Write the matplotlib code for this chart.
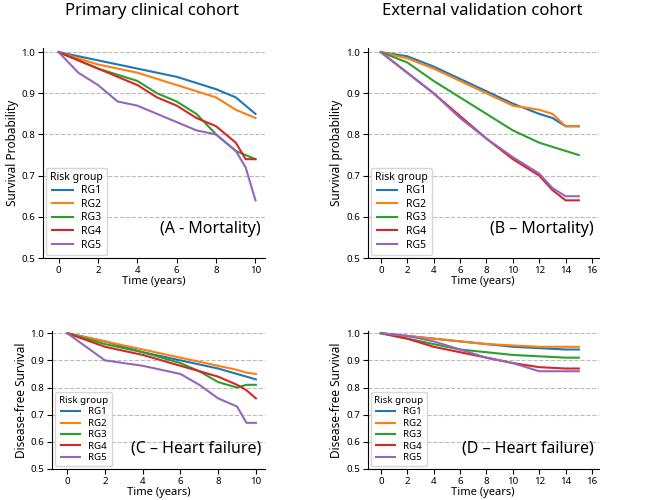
import matplotlib
matplotlib.use("Agg")
import matplotlib.pyplot as plt

plt.rcParams['font.family'] = ['Noto Sans', 'DejaVu Sans']

groups = ["RG1", "RG2", "RG3", "RG4", "RG5"]
colors = ["#1f77b4", "#ff7f0e", "#2ca02c", "#d62728", "#9467bd"]

tA = [0, 1, 2, 3, 4, 5, 6, 7, 8, 9, 9.5, 10]
A = {
 "RG1": [1.0, 0.99, 0.98, 0.97, 0.96, 0.95, 0.94, 0.925, 0.91, 0.89, 0.87, 0.85],
 "RG2": [1.0, 0.985, 0.97, 0.96, 0.95, 0.935, 0.92, 0.905, 0.89, 0.86, 0.85, 0.84],
 "RG3": [1.0, 0.98, 0.96, 0.945, 0.93, 0.90, 0.88, 0.85, 0.80, 0.76, 0.75, 0.74],
 "RG4": [1.0, 0.98, 0.96, 0.94, 0.92, 0.89, 0.87, 0.84, 0.82, 0.78, 0.74, 0.74],
 "RG5": [1.0, 0.95, 0.92, 0.88, 0.87, 0.85, 0.83, 0.81, 0.80, 0.76, 0.72, 0.64],
}
tB = [0, 2, 4, 6, 8, 10, 12, 13, 14, 15]
B = {
 "RG1": [1.0, 0.99, 0.965, 0.935, 0.905, 0.875, 0.85, 0.84, 0.82, 0.82],
 "RG2": [1.0, 0.985, 0.96, 0.93, 0.90, 0.87, 0.86, 0.85, 0.82, 0.82],
 "RG3": [1.0, 0.975, 0.93, 0.89, 0.85, 0.81, 0.78, 0.77, 0.76, 0.75],
 "RG4": [1.0, 0.95, 0.90, 0.845, 0.79, 0.74, 0.70, 0.665, 0.64, 0.64],
 "RG5": [1.0, 0.95, 0.90, 0.84, 0.79, 0.745, 0.705, 0.67, 0.65, 0.65],
}
tC = [0, 1, 2, 3, 4, 5, 6, 7, 8, 9, 9.5, 10]
C = {
 "RG1": [1.0, 0.985, 0.97, 0.95, 0.93, 0.915, 0.90, 0.885, 0.87, 0.85, 0.84, 0.83],
 "RG2": [1.0, 0.985, 0.97, 0.955, 0.94, 0.925, 0.91, 0.895, 0.88, 0.865, 0.855, 0.85],
 "RG3": [1.0, 0.98, 0.96, 0.945, 0.93, 0.91, 0.89, 0.86, 0.82, 0.80, 0.81, 0.81],
 "RG4": [1.0, 0.975, 0.95, 0.935, 0.92, 0.90, 0.88, 0.86, 0.84, 0.81, 0.79, 0.76],
 "RG5": [1.0, 0.95, 0.90, 0.89, 0.88, 0.865, 0.85, 0.81, 0.76, 0.73, 0.67, 0.67],
}
tD = [0, 2, 4, 6, 8, 10, 12, 14, 15]
D = {
 "RG1": [1.0, 0.99, 0.98, 0.97, 0.96, 0.95, 0.945, 0.94, 0.94],
 "RG2": [1.0, 0.99, 0.98, 0.97, 0.96, 0.955, 0.95, 0.95, 0.95],
 "RG3": [1.0, 0.98, 0.96, 0.94, 0.93, 0.92, 0.915, 0.91, 0.91],
 "RG4": [1.0, 0.98, 0.95, 0.93, 0.91, 0.89, 0.875, 0.87, 0.87],
 "RG5": [1.0, 0.99, 0.97, 0.94, 0.91, 0.89, 0.86, 0.86, 0.86],
}

fig = plt.figure(figsize=(6.6, 5.0), dpi=100)
specs = [
  ([0.065, 0.484, 0.337, 0.42], tA, A, 10, "Survival Probability", "(A - Mortality)", 7.5),
  ([0.557, 0.484, 0.35, 0.42], tB, B, 16, "Survival probability", "(B – Mortality)", 7.5),
  ([0.079, 0.062, 0.323, 0.277], tC, C, 10, "Disease-free Survival", "(C – Heart failure)", 7),
  ([0.557, 0.062, 0.35, 0.277], tD, D, 16, "Disease-free Survival", "(D – Heart failure)", 7),
]
for rect, t, data, xmax, ylab, lab, lsz in specs:
    ax = fig.add_axes(rect)
    for g, c in zip(groups, colors):
        ax.plot(t, data[g], color=c, lw=1.5, label=g)
    ax.set_ylim(0.5, 1.01)
    ax.set_xlim(-0.8 if xmax == 10 else -1.0, xmax + 0.5)
    ax.set_xticks(range(0, xmax + 1, 2))
    ax.set_yticks([0.5, 0.6, 0.7, 0.8, 0.9, 1.0])
    ax.yaxis.grid(True, ls="--", color="#bbbbbb", lw=0.8)
    ax.spines[['top', 'right']].set_visible(False)
    ax.tick_params(labelsize=7, pad=2)
    ax.set_xlabel("Time (years)", fontsize=8, labelpad=1)
    ax.set_ylabel(ylab, fontsize=8.5, labelpad=2)
    ax.legend(title="Risk group", loc="lower left", fontsize=lsz, title_fontsize=lsz,
              handlelength=2.0, labelspacing=0.25, borderaxespad=0.3)
    ax.text(0.98, 0.12, lab, transform=ax.transAxes, ha="right", fontsize=11.5)

fig.text(0.23, 0.97, "Primary clinical cohort", ha="center", fontsize=12)
fig.text(0.73, 0.97, "External validation cohort", ha="center", fontsize=12)
fig.savefig("out.png", dpi=100)
